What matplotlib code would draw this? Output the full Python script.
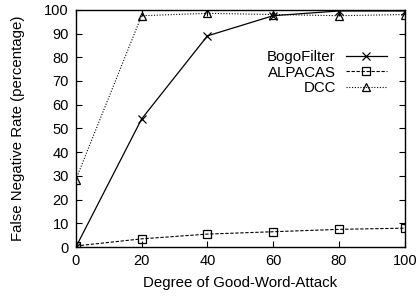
import matplotlib
matplotlib.use('Agg')
import matplotlib.pyplot as plt

# Data
degree = [0, 20, 40, 60, 80, 100]
bogofilter = [0, 54, 89, 97.5, 99.5, 99.5]
alpacas = [0.5, 3.5, 5.5, 6.5, 7.5, 8]
dcc = [28.5, 97.5, 98.5, 98, 97.5, 98]

plt.rcParams['font.family'] = ['Liberation Sans', 'DejaVu Sans']

fig = plt.figure(figsize=(4.19, 2.96), dpi=100)
ax = fig.add_axes([0.181, 0.165, 0.785, 0.802])

ax.plot(degree, bogofilter, color='black', lw=0.9, marker='x', ms=6,
        mew=0.9, label='BogoFilter')
ax.plot(degree, alpacas, color='black', lw=0.8, ls=(0, (3, 1.5)), marker='s',
        ms=6, mfc='none', mew=0.9, label='ALPACAS')
ax.plot(degree, dcc, color='black', lw=0.8, ls=(0, (1, 1.5)), marker='^',
        ms=6, mfc='none', mew=0.9, label='DCC')

ax.set_xlim(0, 100)
ax.set_ylim(0, 100)
ax.set_xticks(range(0, 101, 20))
ax.set_yticks(range(0, 101, 10))
ax.tick_params(direction='in', top=True, right=True, length=4, width=0.8,
               labelsize=10.5, pad=5)
for s in ax.spines.values():
    s.set_linewidth(1.0)

ax.set_xlabel('Degree of Good-Word-Attack', fontsize=10.8, labelpad=6)
ax.set_ylabel('False Negative Rate (percentage)', fontsize=10.8, labelpad=14)

# markerfirst=False right-aligns the rows, so labels end flush at the handles
ax.legend(loc='upper right', bbox_to_anchor=(0.945, 0.83), frameon=False,
          markerfirst=False, handlelength=2.7, handletextpad=0.7,
          labelspacing=0.1, fontsize=10.8, borderaxespad=0, borderpad=0)

fig.savefig('out.png', dpi=100)
